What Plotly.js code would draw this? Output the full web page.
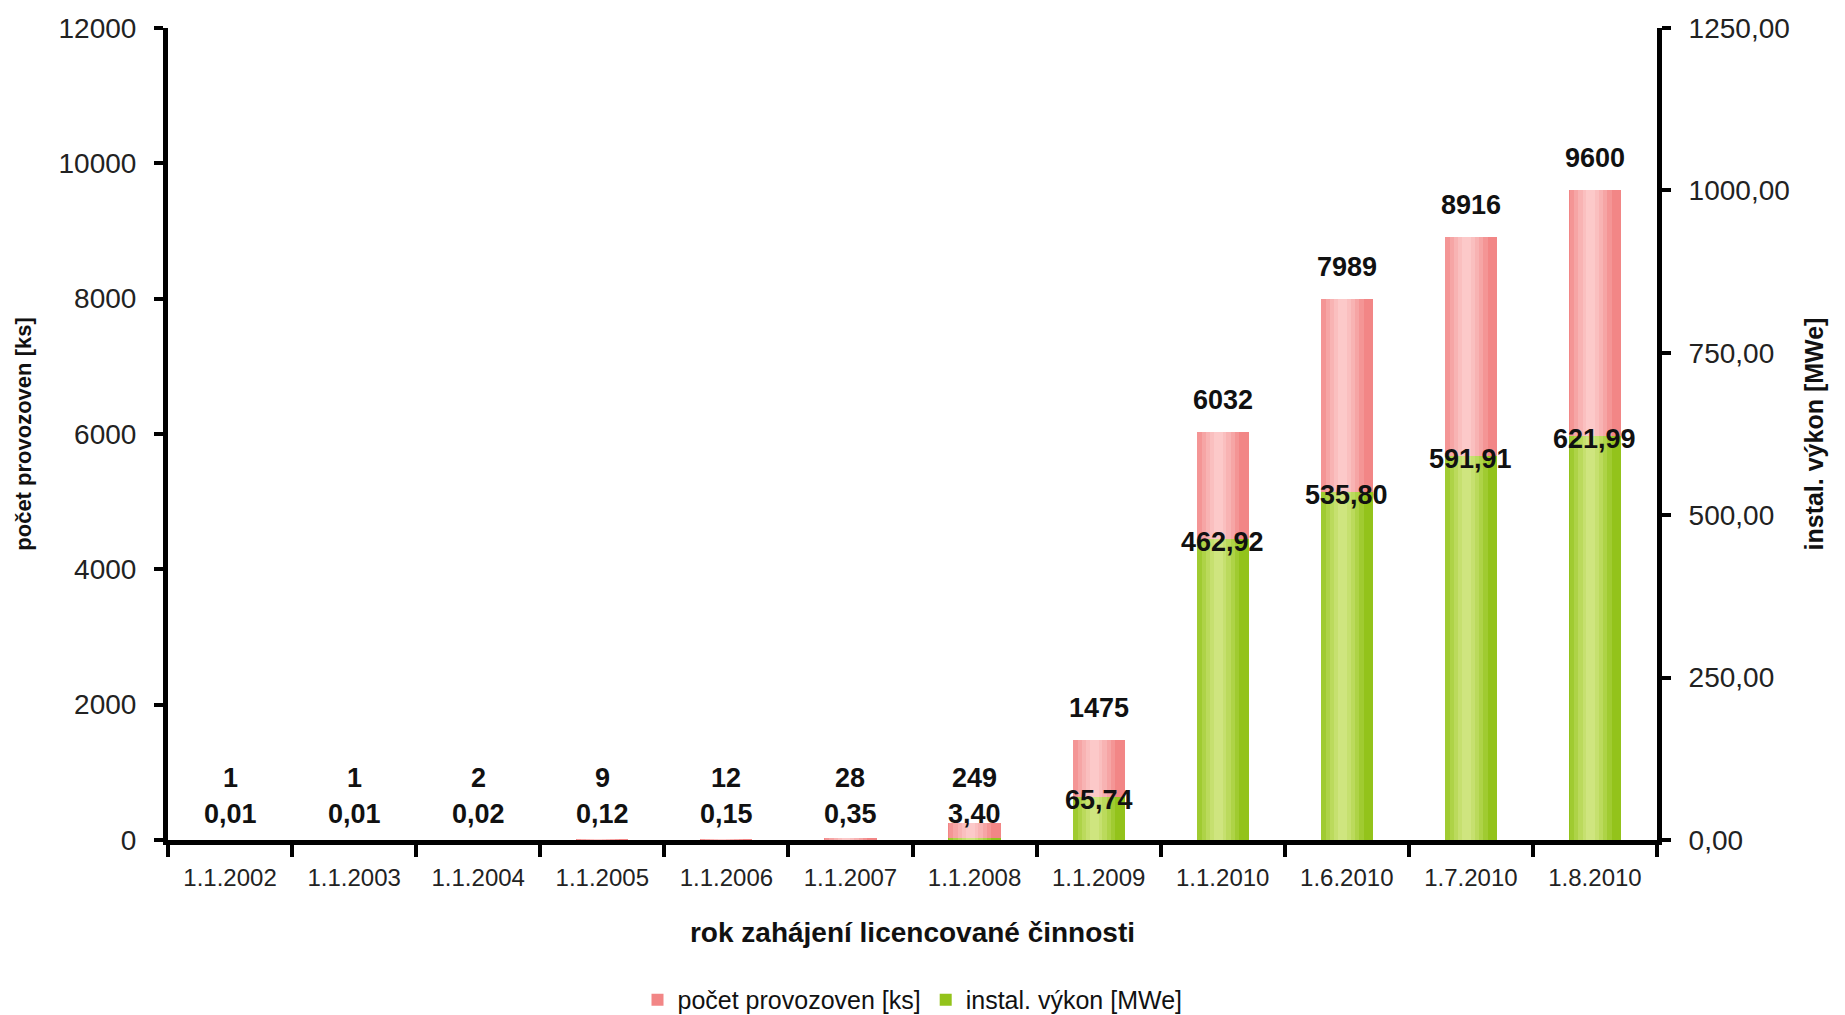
<!DOCTYPE html>
<html>
<head>
<meta charset="utf-8">
<script src="https://cdn.plot.ly/plotly-3.0.1.min.js"></script>
<style>html,body{margin:0;padding:0;background:#fff;}#chart{width:1845px;height:1015px;}</style>
</head>
<body>
<div id="chart"></div>
<script>
// ---- data ----
var categories = ['1.1.2002','1.1.2003','1.1.2004','1.1.2005','1.1.2006','1.1.2007','1.1.2008','1.1.2009','1.1.2010','1.6.2010','1.7.2010','1.8.2010'];
var pocetProvozoven = [1, 1, 2, 9, 12, 28, 249, 1475, 6032, 7989, 8916, 9600];
var instalVykon = [0.01, 0.01, 0.02, 0.12, 0.15, 0.35, 3.40, 65.74, 462.92, 535.80, 591.91, 621.99];
var leftTicks = [0, 2000, 4000, 6000, 8000, 10000, 12000];
var rightTicks = [0, 250, 500, 750, 1000, 1250];
var seriesNames = ['počet provozoven [ks]', 'instal. výkon [MWe]'];
var axisTitles = {x: 'rok zahájení licencované činnosti', y: 'počet provozoven [ks]', y2: 'instal. výkon [MWe]'};

// ---- style ----
var FONT = '"Liberation Sans", Arial, sans-serif';
var layerWidths = [0.42, 0.34, 0.27, 0.20, 0.13, 0.07];
var HL = -0.035; // highlight centre (relative to category centre)
var pinkColors = ['#f28686', '#f49595', '#f6a5a5', '#f8b3b3', '#fabfbf', '#fcc9c9'];
var greenColors = ['#93c31b', '#a0cb31', '#aed347', '#bbda5c', '#c6e06f', '#cfe57f'];

function fmt2(v){ return v.toFixed(2).replace('.', ','); }
function offs(w, i){ return i === 0 ? -w/2 : HL - w/2; }

var traces = [];
layerWidths.forEach(function(w, i){
  traces.push({type:'bar', x: categories, y: pocetProvozoven, yaxis:'y', xaxis:'x',
    name: seriesNames[0], showlegend: i === 0, legendgroup:'p',
    width: categories.map(function(){return w;}), offset: categories.map(function(){return offs(w, i);}),
    marker:{color: pinkColors[i], line:{width:0}}, hoverinfo:'x+y'});
});
layerWidths.forEach(function(w, i){
  traces.push({type:'bar', x: categories, y: instalVykon, yaxis:'y2', xaxis:'x',
    name: seriesNames[1], showlegend: i === 0, legendgroup:'g',
    width: categories.map(function(){return w;}), offset: categories.map(function(){return offs(w, i);}),
    marker:{color: greenColors[i], line:{width:0}}, hoverinfo:'x+y'});
});

var annotations = [];
categories.forEach(function(c, i){
  annotations.push({x: c, xref:'x', y: Math.max(pocetProvozoven[i], 450), yref:'y', yshift: 32,
    text: String(pocetProvozoven[i]), showarrow:false, yanchor:'middle', xanchor:'center',
    font:{family: FONT, size: 27, color:'#111', weight: 'bold'}});
  annotations.push({x: c, xref:'x', y: Math.max(instalVykon[i], 44), yref:'y2', yshift: -3,
    text: fmt2(instalVykon[i]), showarrow:false, yanchor:'middle', xanchor:'center',
    font:{family: FONT, size: 27, color:'#111', weight: 'bold'}});
});

var layout = {
  width: 1845, height: 1015,
  margin: {l: 168, r: 188, t: 28, b: 175, autoexpand: false},
  paper_bgcolor: '#fff', plot_bgcolor: '#fff',
  separators: ', ',
  barmode: 'overlay',
  bargap: 0,
  showlegend: true,
  legend: {orientation:'h', x: 0.5, xanchor:'center', y: -0.197, yanchor:'middle',
    font:{family: FONT, size: 25, color:'#111'}, itemwidth: 30, tracegroupgap: 0},
  font: {family: FONT, color:'#222'},
  xaxis: {
    type:'category', tickson:'boundaries', ticks:'outside', ticklen: 12, tickwidth: 4, tickcolor:'#000',
    showline: true, linewidth: 5, linecolor:'#000', showgrid:false, zeroline:false, automargin: false,
    tickfont:{family: FONT, size: 24, color:'#222'}, ticklabelstandoff: 12,
    title:{text: axisTitles.x, font:{family: FONT, size: 28, color:'#111', weight:'bold'}, standoff: 34}
  },
  yaxis: {
    range:[0, 12000], tickvals: leftTicks, tickformat:'d', ticks:'outside', ticklen: 9, tickwidth: 4, tickcolor:'#000',
    showline: true, linewidth: 5, linecolor:'#000', showgrid:false, zeroline:false, automargin: false,
    tickfont:{family: FONT, size: 28, color:'#222'}, ticklabelstandoff: 12,
    title:{text: axisTitles.y, font:{family: FONT, size: 22, color:'#111', weight:'bold'}, standoff: 22}
  },
  yaxis2: {
    overlaying:'y', side:'right', range:[0, 1250], tickvals: rightTicks, tickformat:'.2f',
    ticks:'outside', ticklen: 9, tickwidth: 4, tickcolor:'#000', automargin: false,
    showline: true, linewidth: 5, linecolor:'#000', showgrid:false, zeroline:false,
    tickfont:{family: FONT, size: 28, color:'#222'}, ticklabelstandoff: 12,
    title:{text: axisTitles.y2, font:{family: FONT, size: 25, color:'#111', weight:'bold'}, standoff: 18}
  },
  annotations: annotations
};

Plotly.newPlot('chart', traces, layout, {staticPlot: true, displayModeBar: false});
</script>
</body>
</html>
